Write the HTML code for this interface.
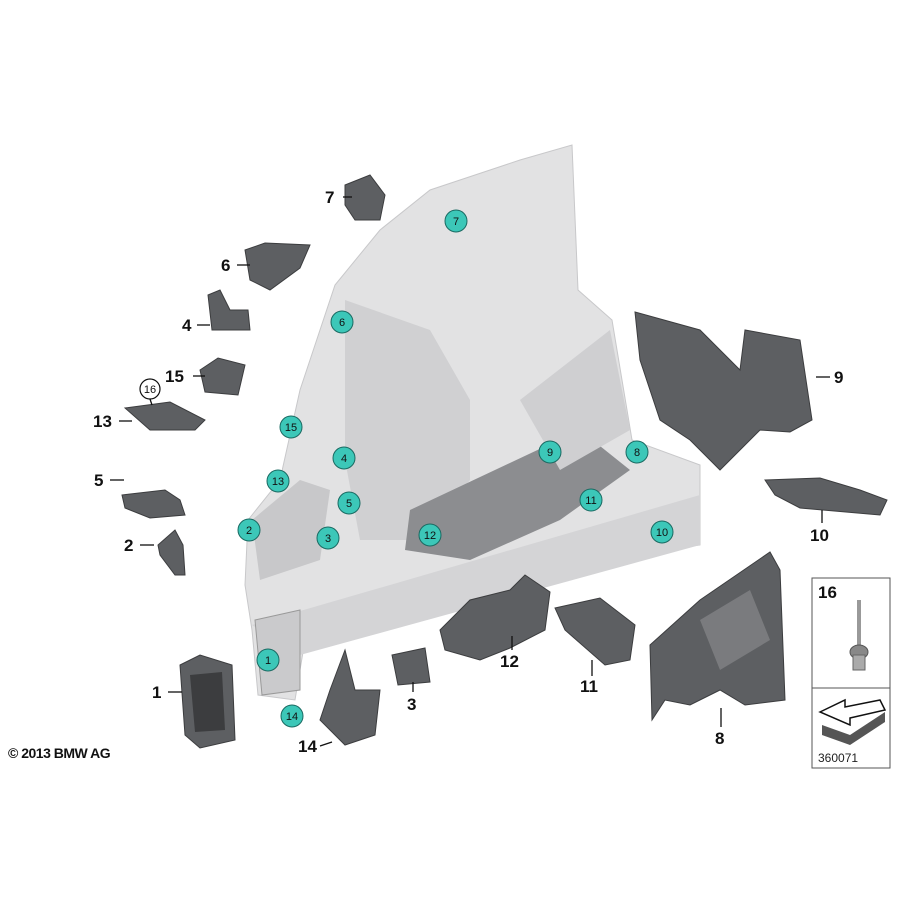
<!DOCTYPE html>
<html><head><meta charset="utf-8"><style>
html,body{margin:0;padding:0;background:#fff;}
svg{display:block;font-family:"Liberation Sans",sans-serif;}
.lbl{font-size:17px;font-weight:bold;fill:#111;}
.tc{fill:#3cc7b8;stroke:#1a6a62;stroke-width:1;}
.tt{font-size:11px;fill:#111;text-anchor:middle;}
.dk{fill:#5d5f62;stroke:#3c3d3f;stroke-width:1;}
.ln{stroke:#111;stroke-width:1.3;}
</style></head><body>
<svg width="900" height="900" viewBox="0 0 900 900">
<!-- big light body -->
<polygon points="245,585 248,520 280,480 300,390 335,285 380,230 430,190 520,160 572,145 578,290 612,320 632,440 700,465 700,545 560,565 420,600 330,620 305,640 295,700 258,695 252,630" fill="#e2e2e3" stroke="#c8c8ca"/>
<polygon points="252,625 700,495 700,545 300,655" fill="#d4d4d6"/>
<polygon points="345,300 430,330 470,400 470,480 420,540 360,540 345,460" fill="#d0d0d2"/>
<polygon points="410,510 580,430 630,470 560,520 470,560 405,550" fill="#8c8d90"/>
<polygon points="520,400 610,330 630,430 560,470" fill="#cfcfd1"/>
<polygon points="255,620 300,610 300,690 262,695" fill="#cacacc" stroke="#999"/>
<polygon points="252,520 300,480 330,490 320,560 260,580" fill="#c8c8ca"/>
<!-- dark parts -->
<polygon class="dk" points="635,312 700,330 740,370 745,330 800,340 812,420 790,432 760,430 720,470 690,440 660,420 640,360"/>
<polygon class="dk" points="765,480 820,478 860,490 887,500 880,515 800,508 775,495"/>
<polygon class="dk" points="650,645 700,600 770,552 780,570 785,700 745,705 720,690 690,705 665,700 652,720"/>
<polygon fill="#7a7b7e" points="700,620 750,590 770,640 720,670"/>
<polygon class="dk" points="555,608 600,598 635,625 630,660 605,665 565,630"/>
<polygon class="dk" points="440,630 470,600 510,590 525,575 550,592 545,630 510,648 480,660 445,650"/>
<polygon class="dk" points="392,655 425,648 430,682 398,685"/>
<polygon class="dk" points="330,690 345,650 355,690 380,690 375,735 345,745 320,720"/>
<polygon class="dk" points="180,665 200,655 232,665 235,740 200,748 185,735"/>
<polygon fill="#3c3d3f" points="190,675 222,672 225,730 195,732"/>
<polygon class="dk" points="158,545 175,530 183,545 185,575 175,575 160,555"/>
<polygon class="dk" points="122,495 165,490 180,500 185,515 150,518 125,508"/>
<polygon class="dk" points="125,408 170,402 205,420 195,430 150,430"/>
<polygon class="dk" points="200,370 218,358 245,365 238,395 205,392"/>
<polygon class="dk" points="208,295 220,290 230,310 248,310 250,330 212,330"/>
<polygon class="dk" points="245,250 265,243 310,245 300,268 270,290 250,280"/>
<polygon class="dk" points="345,185 370,175 385,195 380,220 355,220 345,205"/>
<!-- leader lines -->
<line class="ln" x1="343" y1="197" x2="352" y2="197"/>
<line class="ln" x1="237" y1="265" x2="250" y2="265"/>
<line class="ln" x1="197" y1="325" x2="210" y2="325"/>
<line class="ln" x1="193" y1="376" x2="205" y2="376"/>
<line class="ln" x1="119" y1="421" x2="132" y2="421"/>
<line class="ln" x1="110" y1="480" x2="124" y2="480"/>
<line class="ln" x1="140" y1="545" x2="154" y2="545"/>
<line class="ln" x1="168" y1="692" x2="182" y2="692"/>
<line class="ln" x1="320" y1="746" x2="332" y2="742"/>
<line class="ln" x1="413" y1="692" x2="413" y2="682"/>
<line class="ln" x1="512" y1="650" x2="512" y2="636"/>
<line class="ln" x1="592" y1="676" x2="592" y2="660"/>
<line class="ln" x1="721" y1="727" x2="721" y2="708"/>
<line class="ln" x1="816" y1="377" x2="830" y2="377"/>
<line class="ln" x1="822" y1="523" x2="822" y2="510"/>
<!-- labels -->
<text class="lbl" x="325" y="203">7</text>
<text class="lbl" x="221" y="271">6</text>
<text class="lbl" x="182" y="331">4</text>
<text class="lbl" x="165" y="382">15</text>
<text class="lbl" x="93" y="427">13</text>
<text class="lbl" x="94" y="486">5</text>
<text class="lbl" x="124" y="551">2</text>
<text class="lbl" x="152" y="698">1</text>
<text class="lbl" x="298" y="752">14</text>
<text class="lbl" x="407" y="710">3</text>
<text class="lbl" x="500" y="667">12</text>
<text class="lbl" x="580" y="692">11</text>
<text class="lbl" x="715" y="744">8</text>
<text class="lbl" x="834" y="383">9</text>
<text class="lbl" x="810" y="541">10</text>
<circle cx="150" cy="389" r="10" fill="#fff" stroke="#111" stroke-width="1.2"/>
<text class="tt" x="150" y="393">16</text>
<line class="ln" x1="150" y1="399" x2="152" y2="405"/>
<!-- teal markers -->
<g>
<circle class="tc" cx="456" cy="221" r="11"/><text class="tt" x="456" y="225">7</text>
<circle class="tc" cx="342" cy="322" r="11"/><text class="tt" x="342" y="326">6</text>
<circle class="tc" cx="291" cy="427" r="11"/><text class="tt" x="291" y="431">15</text>
<circle class="tc" cx="344" cy="458" r="11"/><text class="tt" x="344" y="462">4</text>
<circle class="tc" cx="278" cy="481" r="11"/><text class="tt" x="278" y="485">13</text>
<circle class="tc" cx="349" cy="503" r="11"/><text class="tt" x="349" y="507">5</text>
<circle class="tc" cx="249" cy="530" r="11"/><text class="tt" x="249" y="534">2</text>
<circle class="tc" cx="328" cy="538" r="11"/><text class="tt" x="328" y="542">3</text>
<circle class="tc" cx="430" cy="535" r="11"/><text class="tt" x="430" y="539">12</text>
<circle class="tc" cx="550" cy="452" r="11"/><text class="tt" x="550" y="456">9</text>
<circle class="tc" cx="637" cy="452" r="11"/><text class="tt" x="637" y="456">8</text>
<circle class="tc" cx="591" cy="500" r="11"/><text class="tt" x="591" y="504">11</text>
<circle class="tc" cx="662" cy="532" r="11"/><text class="tt" x="662" y="536">10</text>
<circle class="tc" cx="268" cy="660" r="11"/><text class="tt" x="268" y="664">1</text>
<circle class="tc" cx="292" cy="716" r="11"/><text class="tt" x="292" y="720">14</text>
</g>
<!-- legend box -->
<rect x="812" y="578" width="78" height="190" fill="#fff" stroke="#555" stroke-width="1"/>
<line x1="812" y1="688" x2="890" y2="688" stroke="#555"/>
<text class="lbl" x="818" y="598">16</text>
<rect x="857" y="600" width="4" height="45" fill="#999"/>
<ellipse cx="859" cy="652" rx="9" ry="7" fill="#888" stroke="#555"/>
<rect x="853" y="655" width="12" height="15" fill="#aaa" stroke="#666"/>
<polygon points="820,712 845,700 845,707 880,700 885,710 850,718 850,725" fill="#fff" stroke="#111" stroke-width="1.5"/>
<polygon points="822,725 850,735 885,712 885,722 850,745 822,735" fill="#555"/>
<text x="818" y="762" font-size="12" fill="#222">360071</text>
<text x="8" y="758" font-size="14" font-weight="bold" fill="#111" letter-spacing="-0.5">© 2013 BMW AG</text>
</svg>
</body></html>
